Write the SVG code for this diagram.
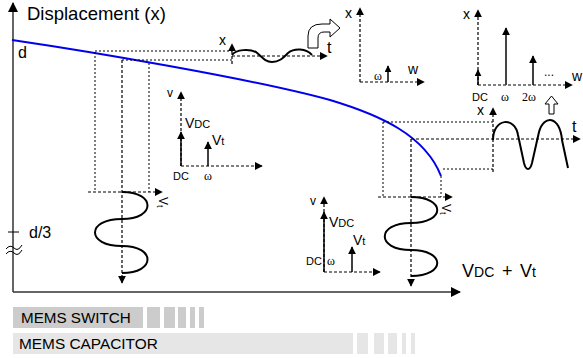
<svg xmlns="http://www.w3.org/2000/svg" width="583" height="358" viewBox="0 0 583 358">
<defs>
<marker id="ahl" viewBox="0 0 10 10" refX="9" refY="5" markerWidth="10" markerHeight="10" markerUnits="userSpaceOnUse" orient="auto"><path d="M0,0 L10,5 L0,10 z" fill="#000"/></marker>
<marker id="ah" viewBox="0 0 10 10" refX="9" refY="5" markerWidth="8" markerHeight="8" markerUnits="userSpaceOnUse" orient="auto"><path d="M0,0 L10,5 L0,10 z" fill="#000"/></marker>
<marker id="ahs" viewBox="0 0 10 10" refX="9" refY="5" markerWidth="7" markerHeight="7" markerUnits="userSpaceOnUse" orient="auto"><path d="M0,0 L10,5 L0,10 z" fill="#000"/></marker>
</defs>
<style>
text{font-family:"Liberation Sans",Arial,sans-serif;fill:#000}
.ser{font-family:"Liberation Serif","Times New Roman",serif}
.dot{fill:none;stroke:#000;stroke-width:1;stroke-dasharray:2,2}
.dash{fill:none;stroke:#000;stroke-width:1.2;stroke-dasharray:3,2}
.sol{fill:none;stroke:#000;stroke-width:1.5}
.wave{fill:none;stroke:#000;stroke-width:2}
.hollow{fill:#fff;stroke:#000;stroke-width:1}
</style>
<g id="axes">
<line x1="13" y1="292" x2="13" y2="3" stroke="#333" stroke-width="1.5" marker-end="url(#ahl)"/>
<line x1="13" y1="292" x2="460" y2="292" stroke="#333" stroke-width="1.5" marker-end="url(#ahl)"/>
<text x="27" y="20" font-size="18.5">Displacement (x)</text>
<text x="18" y="58" font-size="16">d</text>
<line x1="8" y1="232" x2="19" y2="232" stroke="#000" stroke-width="1"/>
<text x="29" y="238" font-size="16">d/3</text>
<path d="M6,249 q4,-5 8,-1 t8,-3 M6,254 q4,-5 8,-1 t8,-3" fill="none" stroke="#000" stroke-width="1"/>
<text x="462" y="277" font-size="18">V<tspan font-size="14">DC</tspan><tspan x="502">+</tspan><tspan x="520">V</tspan><tspan font-size="14">t</tspan></text>
</g>
<g id="curve">
<path d="M12,40 C80,50 250,78 330,100 C380,115 425,135 441,176" fill="none" stroke="#0000ee" stroke-width="2"/>
</g>
<g id="connectors">
<path class="dot" d="M95,51 H232 M122,60 H232 M95,52 V192 M149,63 V192"/>
<path class="dash" d="M122,60 V283" marker-end="url(#ah)"/>
<path class="dash" d="M88,192 H162" marker-end="url(#ah)"/>
<path class="dot" d="M383,122 H493 M383,122 V197 M441,176 V197 M443,169 H493"/>
<path class="dash" d="M411,139 V286" marker-end="url(#ah)"/>
<path class="dash" d="M378,197 H452" marker-end="url(#ah)"/>
<path class="dash" d="M411,139 H580" marker-end="url(#ah)"/>
</g>
<g id="wave-left">
<path class="wave" d="M122,192 C156,192 156,219 122,219 C86,219 86,246 122,246 C156,246 156,273 122,273"/>
<text transform="translate(159,197) rotate(90)" font-size="12">V<tspan font-size="9" dy="2">t</tspan></text>
</g>
<g id="wave-right">
<path class="wave" d="M411,197 C446,197 446,223 411,223 C376,223 376,250 411,250 C446,250 446,276 411,276"/>
<text transform="translate(442,204) rotate(90)" font-size="12">V<tspan font-size="9" dy="2">t</tspan></text>
</g>
<g id="wave-top">
<path class="dash" d="M232,64 V44" marker-end="url(#ah)"/>
<path class="dash" d="M232,56 H327" marker-end="url(#ah)"/>
<path class="wave" d="M232,55 C236,49 250,49 256,52 C262,57 265,62 272,62 C280,62 284,57 288,53 C294,48 306,48 312,55"/>
<text x="219" y="45" font-size="14">x</text>
<text x="327" y="53" font-size="16">t</text>
<path class="hollow" d="M308,48 L308,36 Q308,24 322,24 L330,24 L330,19 L340,28 L330,37 L330,32 L324,32 Q318,32 318,38 L318,48 Z"/>
</g>
<g id="spectrum-1">
<path class="dash" d="M360,82 V8" marker-end="url(#ah)"/>
<path class="dash" d="M360,82 H424" marker-end="url(#ah)"/>
<path class="sol" d="M388,82 V66" marker-end="url(#ahs)"/>
<text x="345" y="18" font-size="14">x</text>
<text x="408" y="74" font-size="14">w</text>
<text x="374" y="80" font-size="12" class="ser">ω</text>
</g>
<g id="spectrum-2">
<path class="dash" d="M478,85 V10" marker-end="url(#ah)"/>
<path class="dash" d="M478,85 H572" marker-end="url(#ah)"/>
<path class="sol" d="M478,85 V70" marker-end="url(#ahs)"/>
<path d="M506,85 V28" fill="none" stroke="#444" stroke-width="2" marker-end="url(#ah)"/>
<path class="sol" d="M533,85 V56" marker-end="url(#ah)"/>
<text x="544" y="76" font-size="12">...</text>
<text x="463" y="19" font-size="14">x</text>
<text x="572" y="81" font-size="14">w</text>
<text x="472" y="101" font-size="11">DC</text>
<text x="501" y="101" font-size="12" class="ser">ω</text>
<text x="522" y="101" font-size="12" class="ser">2ω</text>
<path class="hollow" d="M549,114 V104 H545 L551.5,96 L558,104 H554 V114 Z"/>
</g>
<g id="wave-output">
<path class="dash" d="M493,172 V108" marker-end="url(#ah)"/>
<path class="wave" d="M493,140 C493,118 515,116 518,135 L524,163 C526,171 530,171 532,163 L539,132 C544,114 560,116 562,140 L568,168"/>
<text x="477" y="115" font-size="14">x</text>
<text x="572" y="132" font-size="16">t</text>
</g>
<g id="vchart-1">
<path class="dash" d="M181,166 V92" marker-end="url(#ah)"/>
<path class="dash" d="M181,166 H262" marker-end="url(#ah)"/>
<path class="sol" d="M181,166 V132" marker-end="url(#ah)"/>
<path class="sol" d="M208,166 V142" marker-end="url(#ah)"/>
<text x="167" y="97" font-size="12">v</text>
<text x="185" y="128" font-size="14">V<tspan font-size="11">DC</tspan></text>
<text x="212" y="145" font-size="14">V<tspan font-size="11">t</tspan></text>
<text x="173" y="180" font-size="11">DC</text>
<text x="204" y="180" font-size="12" class="ser">ω</text>
</g>
<g id="vchart-2">
<path class="dash" d="M324,272 V197" marker-end="url(#ah)"/>
<path class="dash" d="M324,272 H380" marker-end="url(#ah)"/>
<path class="sol" d="M324,272 V212" marker-end="url(#ah)"/>
<path class="sol" d="M352,272 V247" marker-end="url(#ah)"/>
<text x="310" y="205" font-size="12">v</text>
<text x="329" y="227" font-size="14">V<tspan font-size="11">DC</tspan></text>
<text x="353" y="245" font-size="14">V<tspan font-size="11">t</tspan></text>
<text x="306" y="265" font-size="11">DC</text>
<text x="327" y="265" font-size="12" class="ser">ω</text>
</g>
<g id="legend-switch">
<rect x="13" y="307" width="130" height="21" fill="#cccccc"/>
<rect x="147" y="307" width="13" height="21" fill="#cccccc"/>
<rect x="164" y="307" width="11" height="21" fill="#cccccc"/>
<rect x="178" y="307" width="8" height="21" fill="#cccccc"/>
<rect x="190" y="307" width="5" height="21" fill="#cccccc"/>
<rect x="199" y="307" width="5" height="21" fill="#cccccc"/>
<text x="21" y="323" font-size="15.2">MEMS SWITCH</text>
</g>
<g id="legend-capacitor">
<rect x="13" y="333" width="340" height="21" fill="#e6e6e6"/>
<rect x="357" y="333" width="11" height="21" fill="#e6e6e6"/>
<rect x="374" y="333" width="10" height="21" fill="#e6e6e6"/>
<rect x="388" y="333" width="9" height="21" fill="#e6e6e6"/>
<rect x="402" y="333" width="4" height="21" fill="#e6e6e6"/>
<rect x="411" y="333" width="4" height="21" fill="#e6e6e6"/>
<text x="19" y="349" font-size="15.4">MEMS CAPACITOR</text>
</g>
</svg>
